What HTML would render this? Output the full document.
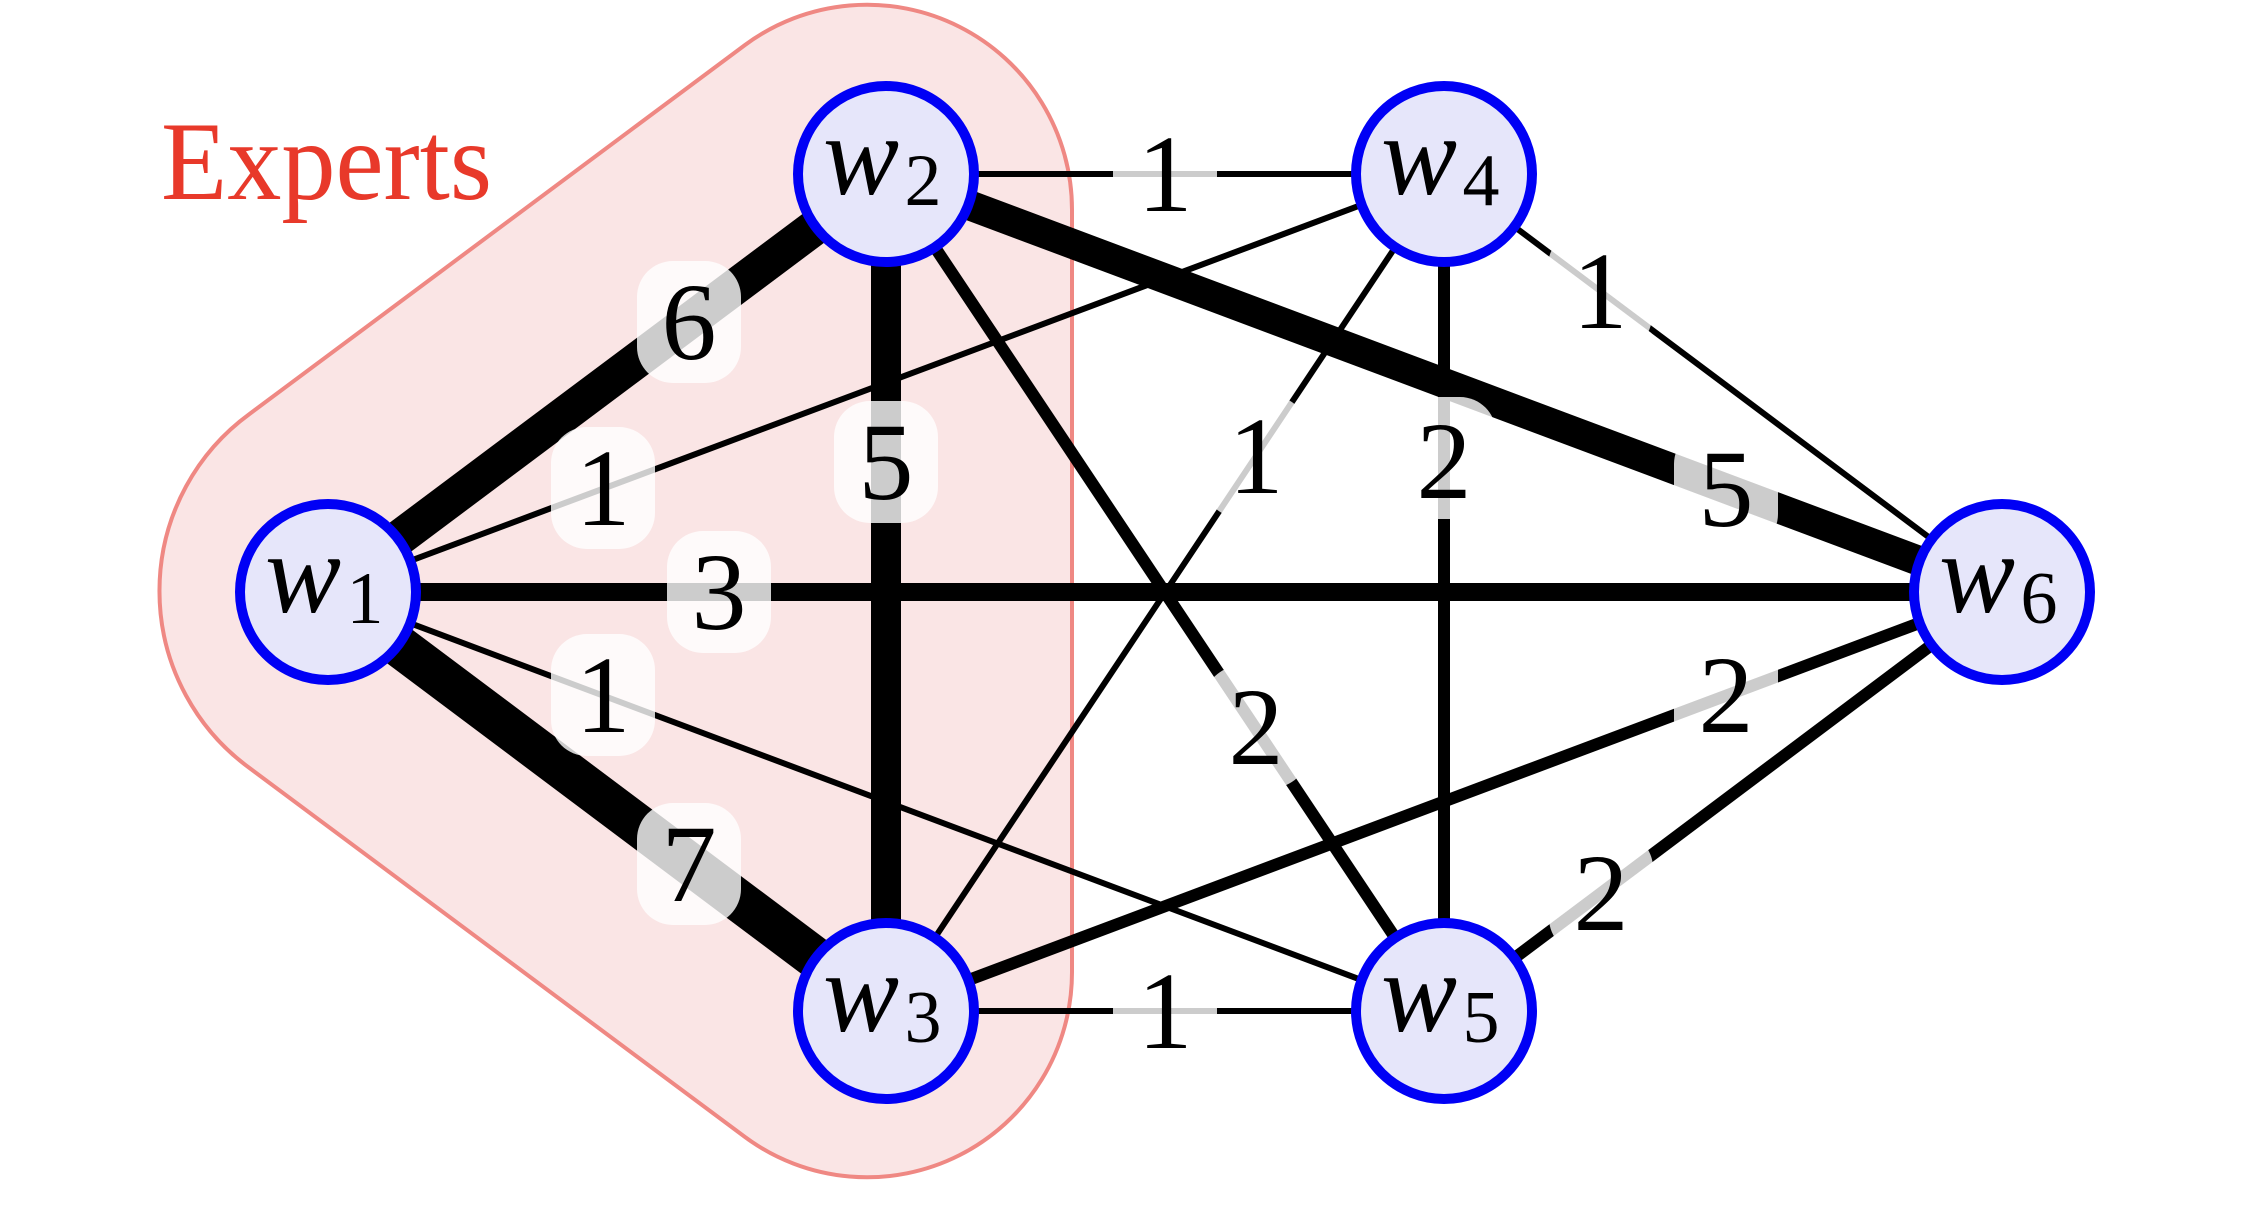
<!DOCTYPE html>
<html>
<head>
<meta charset="utf-8">
<style>
  html, body { margin:0; padding:0; background:#ffffff; }
  body { width:2246px; height:1210px; overflow:hidden; }
  svg { display:block; }
  svg text { font-family: "Liberation Serif", "DejaVu Serif", serif; }
  .lab { font-size:110px; fill:#000; text-anchor:middle; }
  .w { font-size:114px; font-style:italic; fill:#000; text-anchor:middle; }
  .sub { font-size:74px; fill:#000; text-anchor:middle; }
  .exp { font-size:112px; fill:#e8392a; }
</style>
</head>
<body>
<svg width="2246" height="1210" viewBox="0 0 2246 1210" xmlns="http://www.w3.org/2000/svg">
  <rect x="0" y="0" width="2246" height="1210" fill="#ffffff"/>

  <!-- Experts hull -->
  <path d="M 745,45 A 205 205 0 0 1 1072,210 L 1072,972 A 205 205 0 0 1 745,1137 L 249.5,768 A 219 219 0 0 1 249.5,414 Z"
        fill="#fae5e5" stroke="#ef8883" stroke-width="4"/>

  <text class="exp" x="161" y="199" textLength="331" lengthAdjust="spacingAndGlyphs">Experts</text>

  <!-- edges -->
  <g stroke="#000" stroke-linecap="butt" fill="none">
    <line x1="327" y1="592" x2="886" y2="174" stroke-width="36"/>
    <line x1="327" y1="592" x2="886" y2="1011" stroke-width="42"/>
    <line x1="327" y1="592" x2="1444" y2="174" stroke-width="6"/>
    <line x1="327" y1="592" x2="1444" y2="1011" stroke-width="6"/>
    <line x1="327" y1="592" x2="2002" y2="592" stroke-width="18"/>
    <line x1="886" y1="174" x2="886" y2="1011" stroke-width="30"/>
    <line x1="886" y1="174" x2="1444" y2="174" stroke-width="6"/>
    <line x1="886" y1="174" x2="1444" y2="1011" stroke-width="12"/>
    <line x1="886" y1="174" x2="2002" y2="592" stroke-width="30"/>
    <line x1="886" y1="1011" x2="1444" y2="174" stroke-width="6"/>
    <line x1="886" y1="1011" x2="1444" y2="1011" stroke-width="6"/>
    <line x1="886" y1="1011" x2="2002" y2="592" stroke-width="12"/>
    <line x1="1444" y1="174" x2="1444" y2="1011" stroke-width="12"/>
    <line x1="1444" y1="174" x2="2002" y2="592" stroke-width="6"/>
    <line x1="1444" y1="1011" x2="2002" y2="592" stroke-width="12"/>
  </g>

  <!-- label boxes -->
  <g fill="#ffffff" fill-opacity="0.8">
    <rect x="637" y="261" width="104" height="122" rx="36"/>
    <rect x="637" y="803" width="104" height="122" rx="36"/>
    <rect x="551" y="427" width="104" height="122" rx="36"/>
    <rect x="551" y="634" width="104" height="122" rx="36"/>
    <rect x="667" y="531" width="104" height="122" rx="36"/>
    <rect x="834" y="401" width="104" height="122" rx="36"/>
    <rect x="1113" y="113" width="104" height="122" rx="36"/>
    <rect x="1113" y="950" width="104" height="122" rx="36"/>
    <rect x="1548" y="230" width="104" height="122" rx="36"/>
    <rect x="1549" y="832" width="104" height="122" rx="36"/>
    <rect x="1204" y="396" width="104" height="122" rx="36"/>
    <rect x="1392" y="397" width="104" height="122" rx="36"/>
    <rect x="1204" y="666" width="104" height="122" rx="36"/>
    <rect x="1674" y="428" width="104" height="122" rx="36"/>
    <rect x="1674" y="634" width="104" height="122" rx="36"/>
  </g>

  <!-- label digits -->
  <g>
    <text class="lab" x="689" y="359">6</text>
    <text class="lab" x="689" y="901">7</text>
    <text class="lab" x="603" y="525">1</text>
    <text class="lab" x="603" y="732">1</text>
    <text class="lab" x="719" y="629">3</text>
    <text class="lab" x="886" y="499">5</text>
    <text class="lab" x="1165" y="211">1</text>
    <text class="lab" x="1165" y="1048">1</text>
    <text class="lab" x="1600" y="328">1</text>
    <text class="lab" x="1601" y="930">2</text>
    <text class="lab" x="1256" y="493">1</text>
    <text class="lab" x="1444" y="498">2</text>
    <text class="lab" x="1256" y="764">2</text>
    <text class="lab" x="1726" y="526">5</text>
    <text class="lab" x="1726" y="732">2</text>
  </g>

  <!-- nodes -->
  <g fill="#e6e6fa" stroke="#0000f5" stroke-width="10">
    <circle cx="328" cy="592" r="88"/>
    <circle cx="886" cy="174" r="88"/>
    <circle cx="886" cy="1011" r="88"/>
    <circle cx="1444" cy="174" r="88"/>
    <circle cx="1444" cy="1011" r="88"/>
    <circle cx="2002" cy="592" r="88"/>
  </g>

  <!-- node labels -->
  <g>
    <text class="w" x="303" y="612">w</text>
    <text class="sub" x="365" y="623">1</text>

    <text class="w" x="861" y="194">w</text>
    <text class="sub" x="923" y="205">2</text>

    <text class="w" x="861" y="1031">w</text>
    <text class="sub" x="923" y="1042">3</text>

    <text class="w" x="1419" y="194">w</text>
    <text class="sub" x="1481" y="205">4</text>

    <text class="w" x="1419" y="1031">w</text>
    <text class="sub" x="1481" y="1042">5</text>

    <text class="w" x="1977" y="612">w</text>
    <text class="sub" x="2039" y="623">6</text>
  </g>
</svg>
</body>
</html>
